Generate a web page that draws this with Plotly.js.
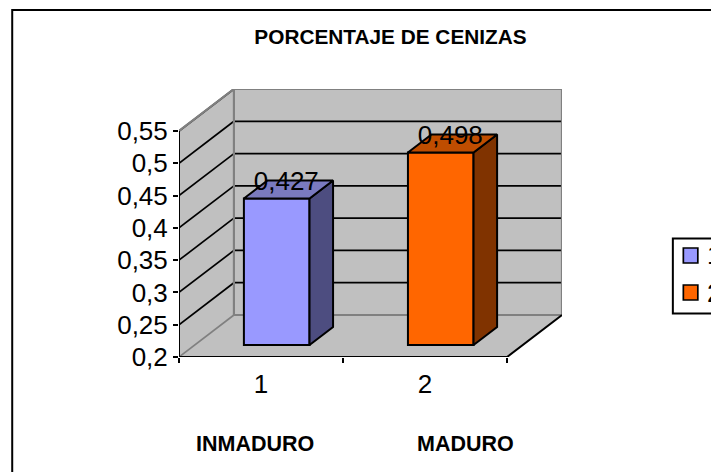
<!DOCTYPE html>
<html><head><meta charset="utf-8">
<script src="https://cdn.plot.ly/plotly-3.0.1.min.js"></script>
<style>html,body{margin:0;padding:0;background:#fff;overflow:hidden}</style>
</head><body><div id="chart" style="width:711px;height:472px"></div>
<script>
// ---- data ----
const titleText = "PORCENTAJE DE CENIZAS";
const categories = [1, 2];
const categoryLabels = ["1", "2"];
const values = [0.427, 0.498];
const valueLabels = ["0,427", "0,498"];
const seriesNames = ["1", "2"];
const yTicks = [0.2, 0.25, 0.3, 0.35, 0.4, 0.45, 0.5, 0.55];
const yTickLabels = ["0,2", "0,25", "0,3", "0,35", "0,4", "0,45", "0,5", "0,55"];
const groupNames = ["INMADURO", "MADURO"];
const frontColors = ["#9999FF", "#FF6600"];
const sideColors = ["#4D4D80", "#803300"];
const topColors = ["#7A7ABF", "#BF4D00"];

// ---- pseudo-3D projection in axis units ----
const L = 178.5, R = 562, T = 89, B = 357;
const W = 711, H = 472;
const xMin = 0.5, xMax = 2.5, yMin = 0.2, yMax = 0.55;
const pxPerCat = 328.5 / (xMax - xMin);
const pxPerVal = 226 / (yMax - yMin);
const DX = 55 / pxPerCat, DY = 42 / pxPerVal;
const dFront = 12 / 42, dBack = 30 / 42, barW = 0.4;
const PX = (x, d) => x + d * DX;
const PY = (v, d) => v + d * DY;
const paperX = p => (p - L) / (R - L);
const paperY = p => (B - p) / (B - T);

function poly(pts) {
  return "M" + pts.map(p => PX(p[0], p[2]) + "," + PY(p[1], p[2])).join("L") + "Z";
}
function seg(x0, v0, d0, x1, v1, d1, color, width) {
  return {type: "line", xref: "x", yref: "y", layer: "below",
    x0: PX(x0, d0), y0: PY(v0, d0), x1: PX(x1, d1), y1: PY(v1, d1),
    line: {color: color, width: width}};
}
const wallFill = "#C0C0C0", edge = "#808080";
const shapes = [
  {type:"path", xref:"x", yref:"y", layer:"below", fillcolor:wallFill, line:{width:0},
   path: poly([[xMin,yMin,1],[xMax,yMin,1],[xMax,yMax,1],[xMin,yMax,1]])},
  {type:"path", xref:"x", yref:"y", layer:"below", fillcolor:wallFill, line:{width:0},
   path: poly([[xMin,yMin,0],[xMin,yMin,1],[xMin,yMax,1],[xMin,yMax,0]])},
  {type:"path", xref:"x", yref:"y", layer:"below", fillcolor:wallFill, line:{width:0},
   path: poly([[xMin,yMin,0],[xMax,yMin,0],[xMax,yMin,1],[xMin,yMin,1]])}
];
yTicks.filter(v => v > yMin).forEach(v => {
  shapes.push(seg(xMin, v, 0, xMin, v, 1, "#000", 1.7));
  shapes.push(seg(xMin, v, 1, xMax, v, 1, "#000", 1.7));
});
shapes.push(seg(xMin, yMin, 1, xMax, yMin, 1, edge, 2.2));
shapes.push(seg(xMin, yMin, 1, xMin, yMax, 1, edge, 2.2));

const traces = [];
// front faces: real bars
categories.forEach((c, i) => {
  traces.push({type:"bar", name: seriesNames[i], x:[PX(c, dFront)], y:[values[i]-yMin],
    base:[PY(yMin, dFront)], width:[barW],
    marker:{color:frontColors[i], line:{color:"#000", width:2}},
    showlegend:false, hoverinfo:"skip"});
});
function face(pts, fill) {
  traces.push({type:"scatter", mode:"lines", fill:"toself", fillcolor:fill,
    x: pts.map(p => PX(p[0], p[2])), y: pts.map(p => PY(p[1], p[2])),
    line:{color:"#000", width:2}, showlegend:false, hoverinfo:"skip", cliponaxis:false});
}
categories.forEach((c, i) => {
  const a = c - barW/2, b = c + barW/2, v = values[i];
  face([[b,yMin,dFront],[b,yMin,dBack],[b,v,dBack],[b,v,dFront],[b,yMin,dFront]], sideColors[i]);
  face([[a,v,dFront],[b,v,dFront],[b,v,dBack],[a,v,dBack],[a,v,dFront]], topColors[i]);
});
function line(pts, color, width) {
  traces.push({type:"scatter", mode:"lines",
    x: pts.map(p => PX(p[0], p[2])), y: pts.map(p => PY(p[1], p[2])),
    line:{color:color, width:width}, showlegend:false, hoverinfo:"skip", cliponaxis:false});
}
// wall outer edges, axes
line([[xMin,yMax,0],[xMin,yMax,1],[xMax,yMax,1],[xMax,yMin,1]], edge, 2.2);
line([[xMin,yMin,0],[xMin,yMin,1]], edge, 1.7);
line([[xMin,yMax,0],[xMin,yMin,0]], "#000", 2);
line([[xMin,yMin,0],[xMax,yMin,0],[xMax,yMin,1]], "#000", 2);
// data labels (text sits slightly lower and left of the top face centre)
traces.push({type:"scatter", mode:"text",
  x: categories.map(c => PX(c, 0.46)),
  y: values.map(v => PY(v, 0.33)),
  text: valueLabels, textposition:"top center",
  textfont:{family:"Liberation Sans, Arial, sans-serif", size:26, color:"#000"},
  showlegend:false, hoverinfo:"skip", cliponaxis:false});

// legend, frame
shapes.push({type:"path", xref:"paper", yref:"paper", layer:"above", line:{color:"#000",width:2},
  path:"M"+paperX(720)+","+paperY(10)+"L"+paperX(11.5)+","+paperY(10)+"L"+paperX(11.5)+","+paperY(480)});
shapes.push({type:"rect", xref:"paper", yref:"paper", line:{color:"#000",width:2}, fillcolor:"#fff",
  x0:paperX(673), x1:paperX(725), y0:paperY(238.5), y1:paperY(313.5)});
const swatchTops = [248, 285];
const font = {family:"Liberation Sans, Arial, sans-serif", color:"#000"};
const annotations = [];
seriesNames.forEach((n,i) => {
  shapes.push({type:"rect", xref:"paper", yref:"paper", line:{color:"#000",width:1.7},
    fillcolor:frontColors[i], x0:paperX(683.5), x1:paperX(698), y0:paperY(swatchTops[i]), y1:paperY(swatchTops[i]+15)});
  annotations.push({xref:"paper", yref:"paper", x:paperX(705), y:paperY(swatchTops[i]+7.5),
    xanchor:"left", yanchor:"middle", text:n, showarrow:false, font:{...font, size:26}});
});
[254.5, 465].forEach((cx,i) => annotations.push({xref:"paper", yref:"paper", x:paperX(cx), y:paperY(444),
  xanchor:"center", yanchor:"middle", text:"<b>"+groupNames[i]+"</b>", showarrow:false, font:{...font, size:21.5}}));

const layout = {
  width:W, height:H, autosize:false, showlegend:false,
  paper_bgcolor:"#fff", plot_bgcolor:"rgba(0,0,0,0)",
  margin:{l:L, r:W-R, t:T, b:H-B, pad:0, autoexpand:false},
  title:{text:"<b>"+titleText+"</b>", x:390.5/W, xanchor:"center", y:1-37/H, yanchor:"middle",
    font:{...font, size:20.8}},
  barmode:"overlay",
  xaxis:{range:[xMin, xMax+DX], tickmode:"array", tickvals:categories, ticktext:categoryLabels,
    ticks:"", showgrid:false, zeroline:false, showline:false, fixedrange:true,
    ticklabelstandoff:9, tickfont:{...font, size:26},
    minor:{tickmode:"array", tickvals:[0.5,1.5,2.5], ticks:"outside", ticklen:5, tickwidth:2, tickcolor:"#000", showgrid:false}},
  yaxis:{range:[yMin, yMax+DY], tickmode:"array", tickvals:yTicks, ticktext:yTickLabels,
    ticks:"outside", ticklen:5, tickwidth:2, tickcolor:"#000",
    showgrid:false, zeroline:false, showline:false, fixedrange:true,
    tickfont:{...font, size:26}},
  shapes:shapes, annotations:annotations
};
Plotly.newPlot("chart", traces, layout, {displayModeBar:false, staticPlot:true});
</script></body></html>
